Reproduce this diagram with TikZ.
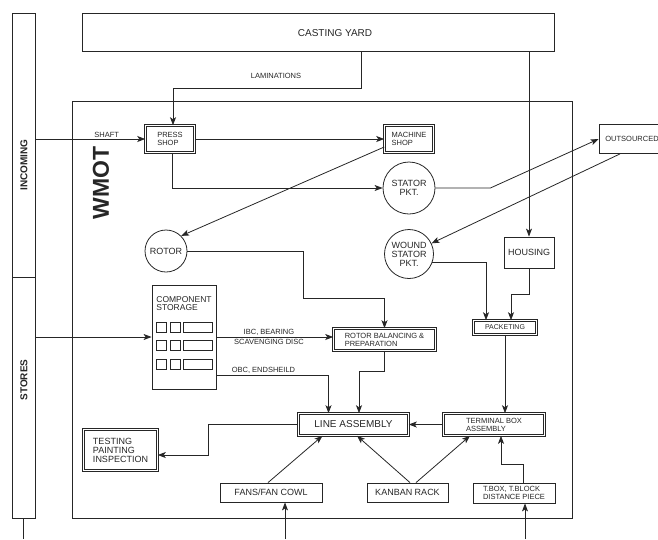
\documentclass[tikz,border=0pt]{standalone}
\usepackage{fontspec}
\setmainfont{Liberation Sans}
\usetikzlibrary{arrows.meta}

\newcommand{\smallfont}{\fontsize{7.5}{8}\selectfont}
\newcommand{\tinyfont}{\fontsize{7}{7.5}\selectfont}
\newcommand{\boxfont}{\fontsize{9}{9}\selectfont}
\newcommand{\compfont}{\fontsize{8.5}{8.5}\selectfont}
\newcommand{\titlefont}{\fontsize{10}{10}\selectfont}
\newcommand{\barfont}{\fontsize{10}{10}\selectfont\bfseries}
\newcommand{\wmotfont}{\fontsize{23}{23}\selectfont\bfseries}

\begin{document}
\begin{tikzpicture}[x=1pt,y=-1pt,>={Stealth[length=8pt,width=6pt,inset=2pt]},thick,color=black!85,
  plain box/.style={rectangle,draw,inner sep=1pt,font=\boxfont},
  double box/.style={rectangle,draw,double,double distance=1.6pt,line width=0.6pt,inner sep=1pt,align=left,font=\smallfont},
  station/.style={circle,draw,inner sep=0.5pt,align=center,font=\boxfont},
  flow label/.style={font=\smallfont,inner sep=1.5pt}]

            \useasboundingbox (0,0) rectangle (658,539);

            \node[plain box,minimum width=23pt,minimum height=264pt] (incoming) at (23.5,145) {};
            \node[plain box,minimum width=23pt,minimum height=241pt] (stores) at (23.5,397.5) {};
            \node[rotate=90,font=\barfont] (incominglbl) at (24,165) {INCOMING};
            \node[rotate=90,font=\barfont] (storeslbl) at (24,380) {STORES};
            \node[plain box,minimum width=472pt,minimum height=38pt] (casting) at (318,32) {};
            \node[font=\titlefont] (castinglbl) at (335,33) {CASTING YARD};
            \node[plain box,minimum width=500pt,minimum height=417pt] (wmot) at (322,309.5) {};
            \node[rotate=90,font=\wmotfont] (wmotlbl) at (101,183) {WMOT};

            \node[double box,minimum width=49pt,minimum height=27pt] (press) at (170,139) {PRESS\\SHOP};
            \node[double box,minimum width=49pt,minimum height=27pt] (machine) at (409,139) {MACHINE\\SHOP};
            \node[station,minimum size=52pt] (stator) at (409,188) {STATOR\\PKT.};
            \node[station,minimum size=42pt] (rotor) at (166,251) {ROTOR};
            \node[station,minimum size=49pt] (wound) at (409,254) {WOUND\\STATOR\\PKT.};
            \node[plain box,minimum width=66pt,minimum height=29pt,font=\smallfont] (outsourced) at (632,139) {OUTSOURCED};
            \node[plain box,minimum width=50pt,minimum height=31pt] (housing) at (529,252.5) {HOUSING};
            \node[double box,minimum width=63pt,minimum height=14pt,font=\tinyfont] (packeting) at (505,327.5) {PACKETING};
            \node[double box,minimum width=102pt,minimum height=22pt] (rotbal) at (384.5,339.5) {ROTOR BALANCING \&\\PREPARATION};
            \node[plain box,minimum width=64pt,minimum height=104pt] (compst) at (184,337) {};
            \node[align=left,font=\compfont,anchor=north,inner sep=0pt] (complbl) at (184,296) {COMPONENT\\STORAGE};
            \node[double box,minimum width=110pt,minimum height=22pt,font=\titlefont] (lineasm) at (353.5,424.5) {LINE ASSEMBLY};
            \node[double box,minimum width=101pt,minimum height=22pt] (termbox) at (494,424.5) {TERMINAL BOX\\ASSEMBLY};
            \node[double box,minimum width=74pt,minimum height=41pt,font=\boxfont] (testing) at (120.5,450) {TESTING\\PAINTING\\INSPECTION};
            \node[plain box,minimum width=102pt,minimum height=19pt] (fans) at (271,492.5) {FANS/FAN COWL};
            \node[plain box,minimum width=81pt,minimum height=19pt] (kanban) at (407.5,492.5) {KANBAN RACK};
            \node[plain box,minimum width=82pt,minimum height=20pt,align=left,font=\smallfont] (tbox) at (514,493) {T.BOX, T.BLOCK\\DISTANCE PIECE};

            \foreach \r in {322,340,359}{
                \draw[thin] (156,\r) rectangle ++(10,10) (170,\r) rectangle ++(10,10) (183,\r) rectangle ++(29,10);
            }

            \coordinate (fansin) at (285,539);
            \coordinate (tboxin) at (525,539);
            \coordinate (storesout) at (23.5,539);

            \draw[->] ([xshift=43pt]casting.south) -- ++(0,37) -| ([xshift=3pt]press.north);
            \node[flow label] (lamlbl) at (276,76) {LAMINATIONS};
            \draw[->] (incoming.east |- press.west) to node[flow label,above,pos=0.65]{SHAFT} (press.west);
            \draw[->] (press) to (machine);
            \draw[->] ([xshift=2pt]press.south) |- (stator.west);
            \draw[->] (stator.east) -- ++(55,0) -- (outsourced.west);
            \draw[->] ([xshift=-12pt]outsourced.south) -- (wound);
            \draw[->] ([yshift=-8pt]machine.west) -- (rotor.north east);
            \draw[->] (rotor.east) -- ++(116,0) |- ([yshift=30pt]rotbal.north) -- (rotbal.north);
            \draw[->] (wound.-20) -| ([xshift=-19pt]packeting.north);
            \draw[->] (casting.south -| housing.north) -- (housing.north);
            \draw[->] (housing.south) -- ++(0,26) -| ([xshift=6pt]packeting.north);
            \draw[->] (packeting.south) -- (packeting.south |- termbox.north);
            \draw[->] (termbox) to (lineasm);
            \draw[->] (rotbal.south) -- ++(0,21) -| ([xshift=5.5pt]lineasm.north);
            \draw[->] (stores.east |- compst.west) -- (compst.west);
            \draw[->] (compst.east) to node[flow label,above,pos=0.45]{IBC, BEARING} node[flow label,below,pos=0.45]{SCAVENGING DISC} (compst.east -| rotbal.west);
            \draw[->] ([yshift=-38pt]compst.east) -| node[flow label,above,pos=0.21]{OBC, ENDSHEILD} ([xshift=-25pt]lineasm.north);
            \draw[->] (lineasm.west) -- ++(-90,0) |- ([yshift=-5pt]testing.east);
            \draw[->] ([xshift=-3pt]fans.north) -- ([xshift=-31pt]lineasm.south);
            \draw[->] ([xshift=2.5pt]kanban.north) -- ([xshift=3.5pt]lineasm.south);
            \draw[->] ([xshift=8.5pt]kanban.north) -- ([xshift=-24pt]termbox.south);
            \draw[->] ([xshift=9pt]tbox.north) -- ++(0,-18) -| ([xshift=7pt]termbox.south);
            \draw[->] (fansin) -- (fansin |- fans.south);
            \draw[->] (tboxin) -- (tboxin |- tbox.south);
            \draw[-] (stores.south) -- (storesout);

        \end{tikzpicture}
\end{document}
